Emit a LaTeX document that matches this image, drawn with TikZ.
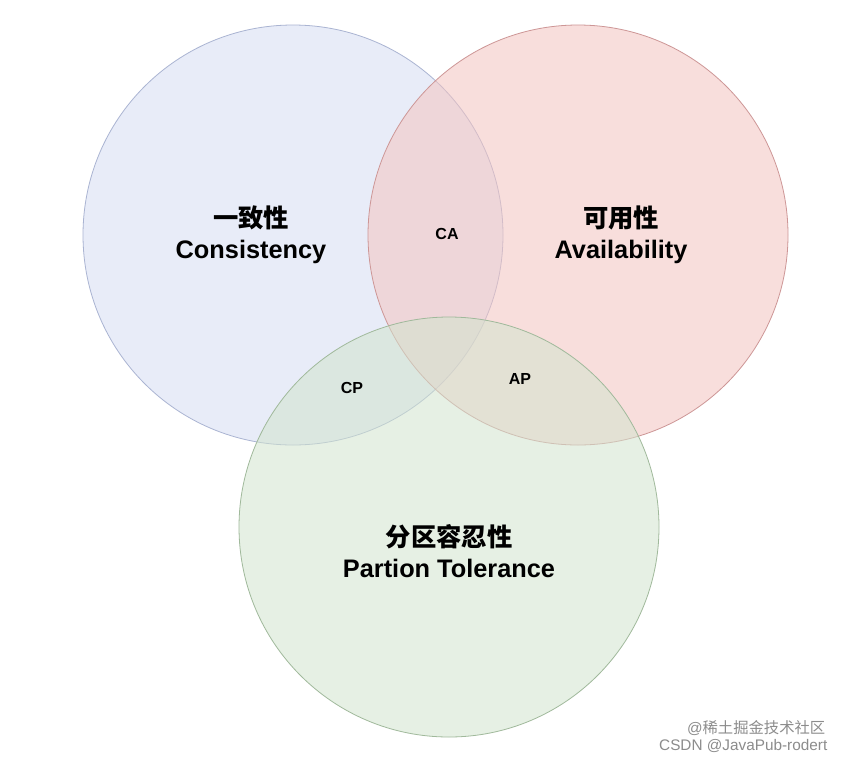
\documentclass[tikz,border=0pt]{standalone}
\usepackage{fontspec}
\setmainfont{Liberation Sans}
\newfontfamily\cjk{Noto Sans CJK SC}
\begin{document}
\begin{tikzpicture}[x=0.75pt,y=-0.75pt,
  circ/.style={circle,minimum size=315pt,inner sep=0pt,line width=0.6pt,fill opacity=0.55},
  big/.style={font=\fontsize{19}{23}\selectfont\bfseries,align=center},
  small/.style={font=\fontsize{12}{14}\selectfont\bfseries},
  wm/.style={font=\fontsize{11.5}{14}\selectfont,text=black!45,anchor=east}]
\useasboundingbox (0,0) rectangle (848,761);
\fill[white] (0,0) rectangle (848,761);
\node[circ,draw={rgb,255:red,170;green,180;blue,210},fill={rgb,255:red,214;green,222;blue,244}] (c) at (293,235) {};
\node[circ,draw={rgb,255:red,205;green,150;blue,150},fill={rgb,255:red,244;green,196;blue,192}] (a) at (578,235) {};
\node[circ,draw={rgb,255:red,160;green,185;blue,155},fill={rgb,255:red,210;green,228;blue,206}] (p) at (449,527) {};
\node[big] (t1) at (251,235) {{\cjk\bfseries 一致性}\\Consistency};
\node[big] (t2) at (621,235) {{\cjk\bfseries 可用性}\\Availability};
\node[big] (t3) at (449,551) {{\cjk\bfseries 分区容忍性}\\Partion Tolerance};
\node[small] (ca) at (447,234) {CA};
\node[small] (cp) at (352,388) {CP};
\node[small] (ap) at (520,379) {AP};
\node[wm] (w1) at (830,728) {@{\cjk 稀土掘金技术社区}};
\node[wm] (w2) at (832,746) {CSDN @JavaPub-rodert};
\end{tikzpicture}
\end{document}
